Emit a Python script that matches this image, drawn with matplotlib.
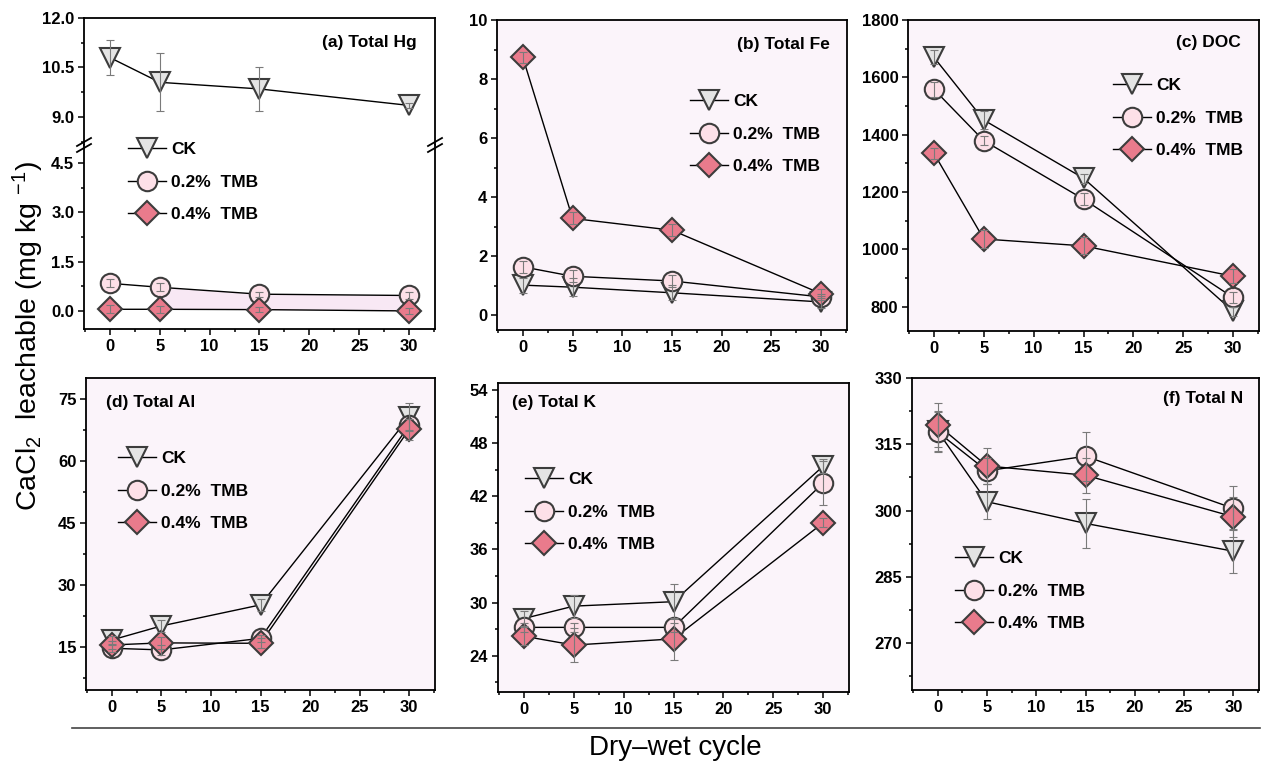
import matplotlib.pyplot as plt
from matplotlib.lines import Line2D
from matplotlib.ticker import MultipleLocator, AutoMinorLocator, FormatStrFormatter

plt.rcParams['font.family'] = ['Liberation Sans', 'DejaVu Sans']
plt.rcParams['mathtext.default'] = 'regular'

# ---- data ----
cycles = [0, 5, 15, 30]
series = ['CK', '0.2%  TMB', '0.4%  TMB']

hg_ck = [10.80, 10.05, 9.85, 9.35]
hg_02 = [0.84, 0.72, 0.51, 0.47]
hg_04 = [0.05, 0.05, 0.04, 0.00]
hg_err = [[0.53, 0.88, 0.67, 0.08], [0.12, 0.12, 0.08, 0.10], [0.12, 0.10, 0.08, 0.10]]

fe_ck = [1.02, 0.95, 0.76, 0.45]
fe_02 = [1.64, 1.32, 1.16, 0.62]
fe_04 = [8.73, 3.28, 2.88, 0.73]
fe_err = [[0.25, 0.30, 0.25, 0.20], [0.20, 0.20, 0.20, 0.10], [0.20, 0.20, 0.20, 0.15]]

doc_ck = [1670, 1451, 1248, 784]
doc_02 = [1558, 1379, 1175, 832]
doc_04 = [1335, 1036, 1012, 906]
doc_err = [[25, 30, 15, 15], [25, 15, 20, 20], [20, 30, 30, 25]]

al_ck = [16.7, 20.1, 25.2, 70.7]
al_02 = [14.7, 14.3, 17.1, 68.7]
al_04 = [15.5, 16.0, 15.9, 67.7]
al_err = [[1.0, 1.5, 1.5, 3.3], [0.8, 1.2, 0.8, 1.5], [1.0, 1.5, 1.2, 2.5]]

k_ck = [28.2, 29.6, 30.1, 45.4]
k_02 = [27.2, 27.2, 27.2, 43.5]
k_04 = [26.2, 25.2, 25.9, 39.0]
k_err = [[0.9, 1.3, 2.0, 0.8], [0.5, 0.5, 0.5, 2.5], [1.0, 1.9, 2.4, 0.5]]

n_ck = [318.0, 302.0, 297.1, 290.8]
n_02 = [317.8, 309.0, 312.3, 300.5]
n_04 = [319.4, 310.1, 308.0, 298.6]
n_err = [[4.5, 4.0, 5.5, 5.0], [4.5, 3.0, 5.5, 5.0], [5.0, 4.0, 4.0, 4.5]]

W, H = 1264, 766
BG = '#fbf4fa'
EDGE = '#3c3c3c'
styles = [
    dict(marker='v', ms=15, mfc='#e4e4e4'),
    dict(marker='o', ms=14, mfc='#fde0e8'),
    dict(marker='D', ms=12.5, mfc='#e97b8c'),
]


def px_box(x0, x1, y0, y1):
    return [x0 / W, 1 - y1 / H, (x1 - x0) / W, (y1 - y0) / H]


def draw_series(ax, ys, errs):
    for y, e, st in zip(ys, errs, styles):
        ax.plot(cycles, y, color='black', lw=1, zorder=2)
        ax.plot(cycles, y, ls='none', mec=EDGE, mew=1.5, zorder=3, **st)
        ax.errorbar(cycles, y, yerr=e, fmt='none', ecolor='#7a7a7a',
                    elinewidth=0.8, capsize=3, capthick=0.8, zorder=4)


def style_axes(ax, ylim, ystep, fmt, bg=BG, show_x=True):
    ax.set_facecolor(bg)
    ax.set_xlim(-2.6, 32.6)
    ax.set_ylim(*ylim)
    ax.xaxis.set_major_locator(MultipleLocator(5))
    ax.xaxis.set_minor_locator(MultipleLocator(2.5))
    ax.yaxis.set_major_locator(MultipleLocator(ystep))
    ax.yaxis.set_minor_locator(AutoMinorLocator(2))
    ax.yaxis.set_major_formatter(FormatStrFormatter(fmt))
    for s in ax.spines.values():
        s.set_linewidth(1.3)
    ax.tick_params(which='both', direction='out', width=1.1, top=False, right=False)
    ax.tick_params(which='major', length=4, labelsize=12, pad=3)
    ax.tick_params(which='minor', length=2.5)
    for lab in ax.get_xticklabels() + ax.get_yticklabels():
        lab.set_fontweight('bold')
    if not show_x:
        ax.tick_params(axis='x', which='both', bottom=False, labelbottom=False)


def add_legend(ax, x, y):
    handles = [Line2D([], [], color='black', lw=1, mec=EDGE, mew=1.5, **st) for st in styles]
    ax.legend(handles, series, loc='upper left', bbox_to_anchor=(x / W, 1 - y / H),
              bbox_transform=fig.transFigure, frameon=False, borderpad=0, borderaxespad=0,
              handlelength=2.2, handletextpad=0.3, labelspacing=1.0,
              prop={'weight': 'bold', 'size': 12.5})


fig = plt.figure(figsize=(W / 100, H / 100), dpi=100)

# (a) Total Hg with broken axis
ax_top = fig.add_axes(px_box(84, 435, 18, 145))
ax_bot = fig.add_axes(px_box(84, 435, 145, 329))
for ax in (ax_top, ax_bot):
    ax.fill_between(cycles[1:], hg_02[1:], hg_04[1:], color='#f8e8f4', lw=0, zorder=1)
    draw_series(ax, [hg_ck, hg_02, hg_04], hg_err)
style_axes(ax_top, (8.15, 12.0), 1.5, '%.1f', bg='white', show_x=False)
style_axes(ax_bot, (-0.55, 5.05), 1.5, '%.1f', bg='white')
ax_top.spines['bottom'].set_visible(False)
ax_bot.spines['top'].set_visible(False)
ax_top.set_xticks([])
for xb in (84, 435):
    for dy in (-3, 3):
        fig.add_artist(Line2D([(xb - 7) / W, (xb + 7) / W],
                              [1 - (145 + dy + 4) / H, 1 - (145 + dy - 4) / H],
                              color='black', lw=1.3))
add_legend(ax_bot, 128, 142)
fig.text(417 / W, 1 - 42 / H, '(a) Total Hg', ha='right', va='center', fontsize=12.5, fontweight='bold')

# (b) Total Fe
ax = fig.add_axes(px_box(497, 847, 20, 330))
draw_series(ax, [fe_ck, fe_02, fe_04], fe_err)
style_axes(ax, (-0.5, 10), 2, '%d')
add_legend(ax, 690, 94)
fig.text(830 / W, 1 - 45 / H, '(b) Total Fe', ha='right', va='center', fontsize=12.5, fontweight='bold')

# (c) DOC
ax = fig.add_axes(px_box(908, 1259, 20, 331))
draw_series(ax, [doc_ck, doc_02, doc_04], doc_err)
style_axes(ax, (715, 1800), 200, '%d')
add_legend(ax, 1113, 78)
fig.text(1241 / W, 1 - 43 / H, '(c) DOC', ha='right', va='center', fontsize=12.5, fontweight='bold')

# (d) Total Al
ax = fig.add_axes(px_box(86, 435, 378, 690))
draw_series(ax, [al_ck, al_02, al_04], al_err)
style_axes(ax, (4.6, 80.1), 15, '%d')
add_legend(ax, 118, 451)
fig.text(106 / W, 1 - 403 / H, '(d) Total Al', ha='left', va='center', fontsize=12.5, fontweight='bold')

# (e) Total K
ax = fig.add_axes(px_box(498, 849, 383, 692))
draw_series(ax, [k_ck, k_02, k_04], k_err)
style_axes(ax, (19.9, 54.8), 6, '%d')
add_legend(ax, 525, 472)
fig.text(512 / W, 1 - 403 / H, '(e) Total K', ha='left', va='center', fontsize=12.5, fontweight='bold')

# (f) Total N
ax = fig.add_axes(px_box(912, 1259, 378, 690))
draw_series(ax, [n_ck, n_02, n_04], n_err)
style_axes(ax, (259.4, 330), 15, '%d')
add_legend(ax, 955, 551)
fig.text(1243 / W, 1 - 398 / H, '(f) Total N', ha='right', va='center', fontsize=12.5, fontweight='bold')

# shared labels
fig.add_artist(Line2D([72 / W, 1260 / W], [1 - 728 / H, 1 - 728 / H], color='#444444', lw=1.2))
fig.text(675 / W, 1 - 748 / H, 'Dry\u2013wet cycle', ha='center', va='center', fontsize=20)
fig.text(28 / W, 1 - 336 / H, 'CaCl$_2$  leachable (mg kg $^{-1}$)', rotation=90,
         ha='center', va='center', fontsize=20.5)

fig.savefig('out.png', dpi=100)
